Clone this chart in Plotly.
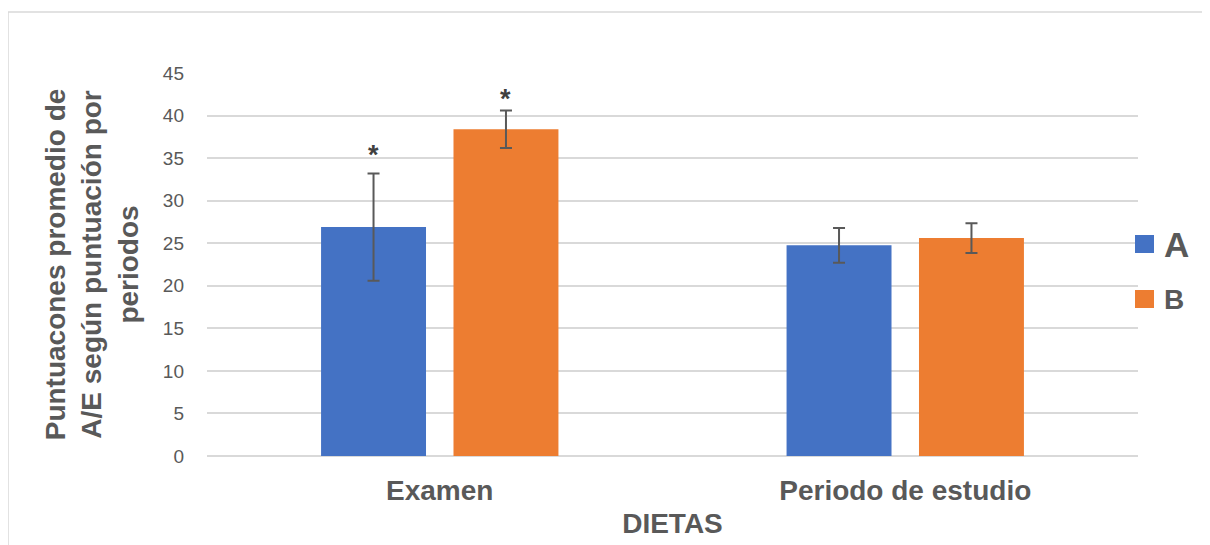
import plotly.graph_objects as go

categories = ["Examen", "Periodo de estudio"]
series_names = ["A", "B"]
values_A = [26.9, 24.75]
values_B = [38.4, 25.6]
err_A = [6.3, 2.05]
err_B = [2.2, 1.75]
significant_A = [True, False]
significant_B = [True, False]
y_ticks = [0, 5, 10, 15, 20, 25, 30, 35, 40, 45]

colors = {"A": "#4472C4", "B": "#ED7D31"}
star_shift = {"A": 1, "B": -6}
text_color = "#595959"
font_family = "Liberation Sans, Arial, sans-serif"

W, H = 1210, 545
ML, MT, PW, PH = 199, 65, 931, 383
MR, MB = W - ML - PW, H - MT - PH


def px(fx):
    return (fx - ML) / PW


def py(fy):
    return 1 - (fy - MT) / PH


fig = go.Figure()
for name, vals, errs in [("A", values_A, err_A), ("B", values_B, err_B)]:
    fig.add_trace(go.Bar(
        x=categories, y=vals, name=name, showlegend=False,
        marker=dict(color=colors[name], line=dict(width=0)),
        error_y=dict(type="data", array=errs, visible=True, color=text_color, thickness=2, width=6),
    ))

# significance asterisks
slot_shift = 66
for name, vals, errs, sig, shift in [("A", values_A, err_A, significant_A, -slot_shift),
                                     ("B", values_B, err_B, significant_B, slot_shift)]:
    for c, v, e, s in zip(categories, vals, errs, sig):
        if s:
            fig.add_annotation(x=c, y=v + e, text="<b>*</b>", showarrow=False, xshift=shift,
                               yshift=star_shift[name], yanchor="bottom",
                               font=dict(size=27, color="#404040", family=font_family))

# legend (drawn manually to match the large square keys)
legend_items = [("A", 227, 35), ("B", 282, 28)]
shapes = []
for name, top, fsize in legend_items:
    shapes.append(dict(type="rect", xref="paper", yref="paper", x0=px(1127), x1=px(1146),
                       y0=py(top + 18), y1=py(top), fillcolor=colors[name], line=dict(width=0)))
    fig.add_annotation(xref="paper", yref="paper", x=px(1154), y=py(top + 9), xanchor="left", yanchor="middle",
                       text=f"<b>{name}</b>", showarrow=False,
                       font=dict(size=fsize, color=text_color, family=font_family))

shapes.append(dict(type="rect", xref="paper", yref="paper", x0=px(0), x1=px(W + 20),
                   y0=py(H + 20), y1=py(4), line=dict(color="#D9D9D9", width=1.5),
                   fillcolor="rgba(0,0,0,0)", layer="below"))

fig.update_layout(
    width=W, height=H,
    paper_bgcolor="white", plot_bgcolor="white",
    margin=dict(l=ML, r=MR, t=MT, b=MB),
    barmode="group", bargap=0.431, bargroupgap=0.2075,
    font=dict(family=font_family, color=text_color),
    showlegend=False,
    xaxis=dict(
        automargin=False,
        title=dict(text="<b>DIETAS</b>", font=dict(size=28, color=text_color), standoff=8),
        tickfont=dict(size=28, color=text_color), tickprefix="<b>", ticksuffix="</b>",
        showgrid=False, showline=False, ticks="", zeroline=False, ticklabelstandoff=15,
    ),
    yaxis=dict(
        automargin=False,
        range=[0, 45], tickvals=y_ticks, tickfont=dict(size=19, color=text_color),
        showgrid=True, gridcolor="#D9D9D9", gridwidth=1.5, zeroline=True, zerolinecolor="#D9D9D9", zerolinewidth=1.5,
        showline=False, ticks="", ticklabelstandoff=22,
        title=dict(text="<b>Puntuacones promedio de<br>A/E según puntuación por<br>periodos</b>",
                   font=dict(size=28, color=text_color), standoff=16),
    ),
    shapes=shapes,
)

fig.write_html("out.html")
